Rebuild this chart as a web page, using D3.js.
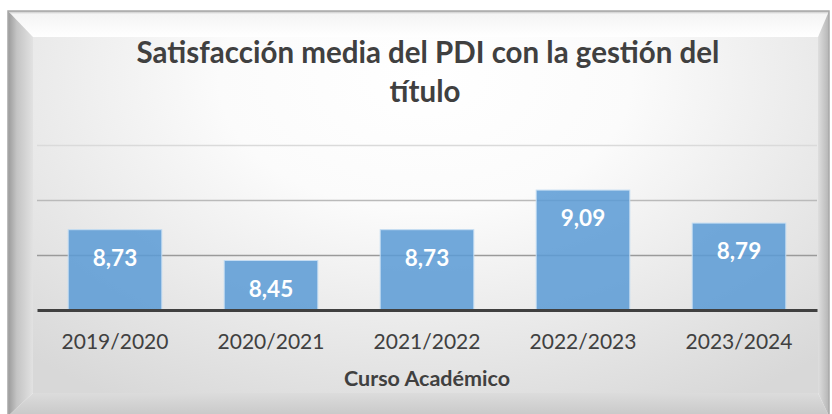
<!DOCTYPE html>
<html>
<head>
<meta charset="utf-8">
<script src="https://cdn.jsdelivr.net/npm/d3@7"></script>
<style>
  body { margin: 0; background: #fff; }
  svg text { font-family: Lato, "Open Sans", sans-serif; }
</style>
</head>
<body>
<div id="chart"></div>
<script>

var cursos = ["2019/2020", "2020/2021", "2021/2022", "2022/2023", "2023/2024"];
var valores = [8.73, 8.45, 8.73, 9.09, 8.79];
var ticks = [8, 8.5, 9, 9.5];
var titulo = ["Satisfacción media del PDI con la gestión del", "título"];
var ejeX = "Curso Académico";

var W = 832, H = 414;
var plot = { left: 37, right: 817, top: 145, bottom: 310 };

var svg = d3.select("#chart").append("svg")
        .attr("width", W)
        .attr("height", H);

var defs = svg.append("defs");

function linGrad(id, x1, y1, x2, y2, stops) {
        var g = defs.append("linearGradient").attr("id", id)
                .attr("x1", x1).attr("y1", y1).attr("x2", x2).attr("y2", y2);
        stops.forEach(function(s) {
                g.append("stop").attr("offset", s[0]).attr("stop-color", s[1]);
        });
}

linGrad("gLeft", 0, 0, 1, 0, [[0, "#9a9a9a"], [0.35, "#c4c4c4"], [1, "#e2e2e2"]]);
linGrad("gTop", 0, 0, 0, 1, [[0, "#bdbdbd"], [0.12, "#f4f4f4"], [1, "#ffffff"]]);
linGrad("gRight", 0, 0, 1, 0, [[0, "#dedede"], [1, "#b5b5b5"]]);
linGrad("gBottom", 0, 0, 0, 1, [[0, "#dcdcdc"], [1, "#c8c8c8"]]);

var rg = defs.append("radialGradient").attr("id", "gFace")
        .attr("cx", 0.5).attr("cy", 0.12).attr("r", 0.75)
        .attr("gradientTransform", "translate(0.5,0.12) scale(1,1.4) translate(-0.5,-0.12)");
rg.append("stop").attr("offset", 0).attr("stop-color", "#ffffff");
rg.append("stop").attr("offset", 0.35).attr("stop-color", "#fbfbfb");
rg.append("stop").attr("offset", 1).attr("stop-color", "#d8d8d8");

// marco biselado
var o = { x1: 8, y1: 11, x2: 829, y2: 416 };
var i = { x1: 33, y1: 37, x2: 818, y2: 393 };
var frame = svg.append("g").attr("class", "frame");

function poly(pts, fill) {
        frame.append("polygon")
                .attr("points", pts.map(function(p) { return p.join(","); }).join(" "))
                .style("fill", fill);
}

poly([[o.x1, o.y1], [o.x2, o.y1], [i.x2, i.y1], [i.x1, i.y1]], "url(#gTop)");
poly([[o.x1, o.y2], [o.x2, o.y2], [i.x2, i.y2], [i.x1, i.y2]], "url(#gBottom)");
poly([[o.x1, o.y1], [i.x1, i.y1], [i.x1, i.y2], [o.x1, o.y2]], "url(#gLeft)");
poly([[o.x2, o.y1], [i.x2, i.y1], [i.x2, i.y2], [o.x2, o.y2]], "url(#gRight)");
frame.append("rect")
        .attr("x", i.x1).attr("y", i.y1)
        .attr("width", i.x2 - i.x1).attr("height", i.y2 - i.y1)
        .style("fill", "url(#gFace)");
frame.append("rect")
        .attr("x", o.x1).attr("y", o.y1)
        .attr("width", o.x2 - o.x1).attr("height", o.y2 - o.y1)
        .style("fill", "none")
        .style("stroke", "#a8a8a8")
        .style("stroke-width", 1.5);

// escalas
var x = d3.scaleBand()
        .domain(cursos)
        .range([plot.left, plot.right])
        .paddingInner(0.4)
        .paddingOuter(0.2);

var y = d3.scaleLinear()
        .domain([8, 9.5])
        .range([plot.bottom, plot.top]);

var gridColor = d3.scaleLinear()
        .domain([8.5, 9.5])
        .range(["#9a9a9a", "#dadada"]);

// rejilla
svg.append("g")
        .attr("class", "grid")
        .attr("transform", "translate(" + plot.left + ",0)")
        .call(d3.axisLeft(y).tickValues(ticks.slice(1)).tickSize(-(plot.right - plot.left)).tickFormat(""))
        .call(function(g) {
                g.select(".domain").remove();
                g.selectAll(".tick line")
                        .style("stroke", function(d) { return gridColor(d); })
                        .style("stroke-width", 1.5);
        });

// barras
svg.append("g").attr("class", "bars")
        .selectAll("rect")
        .data(valores)
        .enter().append("rect")
        .attr("x", function(d, k) { return x(cursos[k]); })
        .attr("y", function(d) { return y(d); })
        .attr("width", x.bandwidth())
        .attr("height", function(d) { return y(8) - y(d); })
        .style("fill", "#5b9bd5")
        .style("fill-opacity", 0.86)
        .style("stroke", "#c4dcf2")
        .style("stroke-width", 1);

// etiquetas de datos
svg.append("g").attr("class", "labels")
        .selectAll("text")
        .data(valores)
        .enter().append("text")
        .attr("x", function(d, k) { return x(cursos[k]) + x.bandwidth() / 2; })
        .attr("y", function(d) { return y(d) + 36; })
        .attr("text-anchor", "middle")
        .style("font-size", "22.5px")
        .style("font-weight", "bold")
        .style("fill", "#ffffff")
        .text(function(d) { return d.toFixed(2).replace(".", ","); });

// eje x
svg.append("g")
        .attr("class", "x-axis")
        .attr("transform", "translate(0," + plot.bottom + ")")
        .call(d3.axisBottom(x).tickSize(0).tickPadding(24))
        .call(function(g) {
                g.select(".domain")
                        .style("stroke", "#404040")
                        .style("stroke-width", 3);
                g.selectAll(".tick text")
                        .style("font-size", "21px")
                        .style("fill", "#404040")
                        .style("font-family", "Lato, sans-serif");
        });

svg.append("text")
        .attr("x", 427)
        .attr("y", 386)
        .attr("text-anchor", "middle")
        .style("font-size", "21.5px")
        .style("font-weight", "bold")
        .style("fill", "#404040")
        .text(ejeX);

// titulo
svg.append("g").attr("class", "title")
        .selectAll("text")
        .data(titulo)
        .enter().append("text")
        .attr("x", function(d, k) { return k == 0 ? 428 : 425; })
        .attr("y", function(d, k) { return 63 + k * 39; })
        .attr("text-anchor", "middle")
        .style("font-size", "29.5px")
        .style("font-weight", "bold")
        .style("fill", "#404040")
        .text(function(d) { return d; });

</script>
</body>
</html>
